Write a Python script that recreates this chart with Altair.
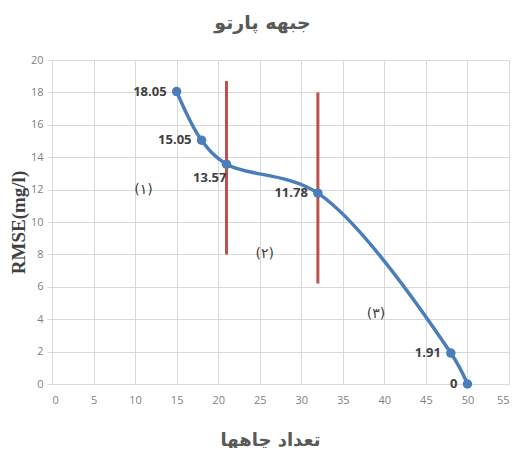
import altair as alt
import pandas as pd

# Pareto front data
wells = [15, 18, 21, 32, 48, 50]
rmse = [18.05, 15.05, 13.57, 11.78, 1.91, 0]
labels = ["18.05", "15.05", "13.57", "11.78", "1.91", "0"]
label_below = [False, False, True, False, False, False]

# red separator lines
rule_x = [21, 32]
rule_lo = [8.0, 6.2]
rule_hi = [18.7, 18.0]

# zone annotations
zone_text = ["(۱)", "(۲)", "(۳)"]
zone_x = [11, 25.6, 39]
zone_y = [12, 8, 4.3]

x_ticks = list(range(0, 56, 5))
y_ticks = list(range(0, 21, 2))

pts = pd.DataFrame({"x": wells, "y": rmse, "label": labels, "below": label_below})
rules = pd.DataFrame({"x": rule_x, "y": rule_lo, "hi": rule_hi})
zones = pd.DataFrame({"x": zone_x, "y": zone_y, "t": zone_text})

xs = alt.Scale(domain=[0, 55], nice=False)
ys = alt.Scale(domain=[0, 20], nice=False)

x_axis = alt.Axis(
    values=x_ticks, format="d", title="تعداد چاهها", ticks=False, labelPadding=10,
    labelOverlap=False, tickCount=30,
    titleFont="DejaVu Sans", titleFontSize=18, titleFontWeight="bold",
    titleColor="#595959", titleX=218, titleY=56, titleBaseline="middle",
)
y_axis = alt.Axis(
    values=y_ticks, format="d", title="RMSE(mg/l)", tickSize=5, labelPadding=4,
    labelOverlap=False, tickCount=30,
    titleFont="Liberation Serif", titleFontSize=19, titleFontWeight="bold",
    titleColor="#404040", titleX=-34, titleY=162, titleAngle=270,
    titleBaseline="middle", titleAlign="center",
)

X = alt.X("x:Q", scale=xs, axis=x_axis)
Y = alt.Y("y:Q", scale=ys, axis=y_axis)

base = alt.Chart(pts)

line = base.mark_line(interpolate="catmull-rom", color="#4a7ebb", strokeWidth=3.5).encode(
    x=X, y=Y
)

rule = alt.Chart(rules).mark_rule(color="#c0504d", strokeWidth=3).encode(
    x=X, y=Y, y2="hi:Q"
)

points = base.mark_circle(color="#4a7ebb", size=90, opacity=1).encode(x=X, y=Y)

lab_left = base.transform_filter("!datum.below").mark_text(
    align="right", baseline="middle", dx=-10, font="Open Sans",
    fontSize=13, fontWeight="bold", color="#404040",
).encode(x=X, y=Y, text="label:N")

lab_below = base.transform_filter("datum.below").mark_text(
    align="right", baseline="middle", dx=0, dy=14, font="Open Sans",
    fontSize=13, fontWeight="bold", color="#404040",
).encode(x=X, y=Y, text="label:N")

zone = alt.Chart(zones).mark_text(
    font="DejaVu Sans", fontSize=14, color="#404040", baseline="middle",
).encode(x=X, y=Y, text="t:N")

chart = alt.layer(rule, line, points, lab_left, lab_below, zone).properties(
    width=457, height=324,
    autosize=alt.AutoSizeParams(type="none"),
    padding={"left": 44, "top": 52, "right": 7, "bottom": 64},
    background="white",
    title=alt.TitleParams(
        "جبهه پارتو", font="DejaVu Sans", fontSize=19, fontWeight="bold",
        color="#595959", offset=21, dx=-18,
    ),
).configure_view(stroke=None).configure_axis(
    gridColor="#d9d9d9", domainColor="#d9d9d9", tickColor="#d9d9d9",
    labelColor="#7f7f7f", labelFont="Open Sans", labelFontSize=11,
)

chart.save("out.html", embed_options={"renderer": "svg", "actions": False})
